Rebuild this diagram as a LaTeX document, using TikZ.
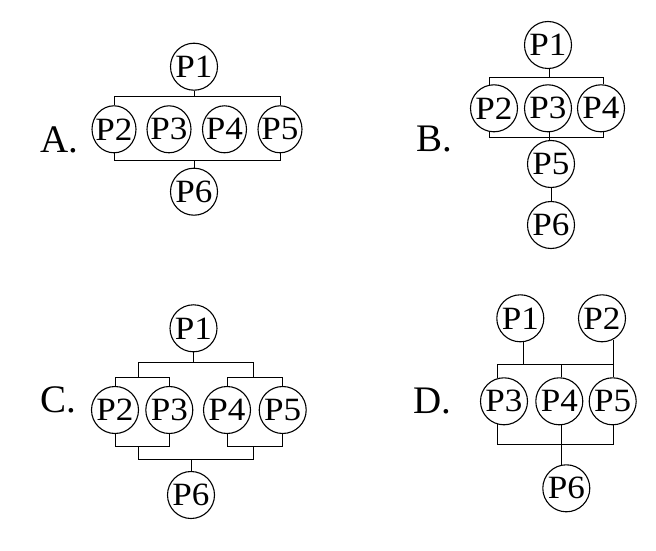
\documentclass[tikz,border=0pt]{standalone}
\usepackage{fontspec}
\setmainfont{Liberation Serif}
\newfontfamily\pfont[FakeStretch=1.08]{Liberation Serif}
\usetikzlibrary{shapes.geometric}
\begin{document}
\begin{tikzpicture}[x=1pt,y=-1pt,
  proc/.style={draw, circle, minimum size=47pt, inner sep=0pt, line width=1.1pt,
    font=\pfont\fontsize{32.5}{32.5}\selectfont},
  procA/.style={proc, shape=ellipse, inner xsep=-4pt, minimum width=44pt, minimum height=47pt},
  wire/.style={line width=0.9pt},
  lab/.style={anchor=base west, inner sep=0pt, font=\fontsize{39}{39}\selectfont}]
\useasboundingbox (0,0) rectangle (656,551);
% ---------- A ----------
\node[lab] (la) at (40,152.7) {A.};
\node[proc] (a1) at (194,66.7) {P1};
\node[procA] (a2) at (114,129.3) {P2};
\node[procA] (a3) at (169,129.3) {P3};
\node[procA] (a4) at (224.5,129.3) {P4};
\node[procA] (a5) at (280,129.3) {P5};
\node[proc] (a6) at (194,191.7) {P6};
\coordinate (aT) at (194,96.7);
\coordinate (aB) at (194,160);
\draw[wire] (a1) -- (aT);
\draw[wire] (a2.north) -- (a2 |- aT) -- (a5 |- aT) -- (a5.north);
\draw[wire] (a2.south) -- (a2 |- aB) -- (a5 |- aB) -- (a5.south);
\draw[wire] (aB) -- (a6);
% ---------- B ----------
\node[lab] (lb) at (416.7,151.7) {B.};
\node[proc] (b1) at (548,45) {P1};
\node[proc] (b2) at (494,108.3) {P2};
\node[proc] (b3) at (548,108.3) {P3};
\node[proc] (b4) at (601,108.3) {P4};
\node[proc] (b5) at (551,164) {P5};
\node[proc] (b6) at (551,225) {P6};
\coordinate (bT) at (549.5,77.3);
\coordinate (bB) at (549.5,137.3);
\draw[wire] (b1.-86) -- (b1.-86 |- bT);
\draw[wire] (b2.100) -- (b2.100 |- bT) -- (b4.83 |- bT) -- (b4.83);
\draw[wire] (b2.-100) -- (b2.-100 |- bB) -- (b4.-83 |- bB) -- (b4.-83);
\draw[wire] (b3.-86) -- (b3.-86 |- bB);
\draw[wire] (bB) -- (bB |- b5.north);
\draw[wire] (b5) -- (b6);
% ---------- C ----------
\node[lab] (lc) at (40,412.7) {C.};
\node[proc] (c1) at (193.5,328.3) {P1};
\node[proc] (c2) at (115,410) {P2};
\node[proc] (c3) at (169.3,410) {P3};
\node[proc] (c4) at (227,410) {P4};
\node[proc] (c5) at (282.7,410) {P5};
\node[proc] (c6) at (191,495) {P6};
\coordinate (cTl) at (138.3,362.7);
\coordinate (cTr) at (253.3,362.7);
\coordinate (cUl) at (138.3,377.3);
\coordinate (cUr) at (253.3,377.3);
\coordinate (cDl) at (138.3,446.7);
\coordinate (cDr) at (253.3,446.7);
\coordinate (cBl) at (138.3,459);
\coordinate (cBr) at (253.3,459);
\draw[wire] (c1) -- (c1 |- cTl);
\draw[wire] (cUl) -- (cTl) -- (cTr) -- (cUr);
\draw[wire] (c2.north) -- (c2 |- cUl) -- (c3 |- cUl) -- (c3.north);
\draw[wire] (c4.north) -- (c4 |- cUr) -- (c5 |- cUr) -- (c5.north);
\draw[wire] (c2.south) -- (c2 |- cDl) -- (c3 |- cDl) -- (c3.south);
\draw[wire] (c4.south) -- (c4 |- cDr) -- (c5 |- cDr) -- (c5.south);
\draw[wire] (cDl) -- (cBl) -- (cBr) -- (cDr);
\draw[wire] (c6 |- cBl) -- (c6);
% ---------- D ----------
\node[lab] (ld) at (413.3,413.3) {D.};
\node[proc] (d1) at (520.3,318.3) {P1};
\node[proc] (d2) at (602,318.3) {P2};
\node[proc] (d3) at (504,401.3) {P3};
\node[proc] (d4) at (559.3,401.3) {P4};
\node[proc] (d5) at (612.7,401.3) {P5};
\node[proc] (d6) at (566.3,488.3) {P6};
\coordinate (dT) at (0,364.3);
\coordinate (dB) at (0,444.3);
\draw[wire] (d1.-82) -- (d1.-82 |- dT);
\draw[wire] (d2.-62) -- (d2.-62 |- dT);
\draw[wire] (d3.106) -- (d3.106 |- dT) -- (d5.88 |- dT) -- (d5.88);
\draw[wire] (d4.84) -- (d4.84 |- dT);
\draw[wire] (d3.-106) -- (d3.-106 |- dB) -- (d5.-88 |- dB) -- (d5.-88);
\draw[wire] (d4.-84) -- (d4.-84 |- dB);
\draw[wire] (d6.101 |- dB) -- (d6.101);
\end{tikzpicture}
\end{document}
